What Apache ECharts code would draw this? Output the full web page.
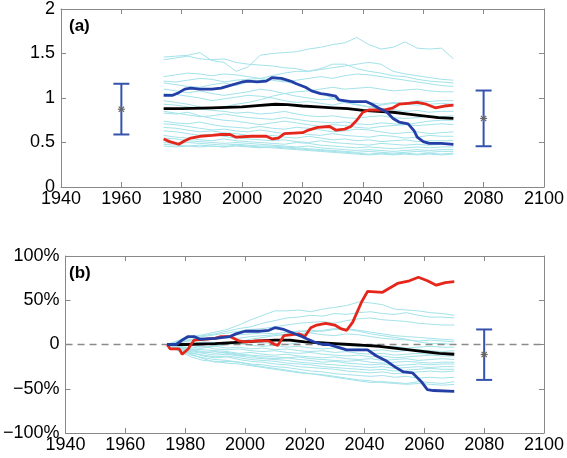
<!DOCTYPE html>
<html><head><meta charset="utf-8">
<script src="https://cdn.jsdelivr.net/npm/echarts@6/dist/echarts.min.js"></script>
<style>html,body{margin:0;padding:0;background:#fff}#c{width:567px;height:458px}</style>
</head><body><div id="c"></div>
<script>
// ---------- data ----------
const years = [1974,1978,1982,1986,1990,1994,1998,2002,2006,2010,2014,2018,2022,2026,2030,2034,2038,2042,2046,2050,2054,2058,2062,2066,2070];

const xTicks = [1940,1960,1980,2000,2020,2040,2060,2080,2100];
const yTicksA = [0,0.5,1,1.5,2];
const yTicksB = [-100,-50,0,50,100];

// panel (a) thin model lines
const cyanA = [
 [1.46,1.47,1.48,1.51,1.42,1.40,1.30,1.35,1.48,1.50,1.51,1.52,1.55,1.57,1.60,1.62,1.68,1.60,1.55,1.57,1.63,1.56,1.55,1.56,1.44],
 [1.43,1.45,1.47,1.44,1.43,1.44,1.40,1.38,1.37,1.36,1.34,1.33,1.30,1.32,1.34,1.36,1.38,1.40,1.38,1.30,1.27,1.25,1.23,1.21,1.20],
 [1.24,1.26,1.28,1.27,1.25,1.27,1.26,1.24,1.22,1.25,1.28,1.30,1.30,1.33,1.38,1.38,1.33,1.30,1.28,1.25,1.24,1.21,1.19,1.18,1.17],
 [1.19,1.18,1.20,1.22,1.21,1.18,1.20,1.21,1.22,1.20,1.18,1.20,1.22,1.24,1.22,1.25,1.27,1.26,1.24,1.22,1.20,1.18,1.16,1.14,1.13],
 [1.17,1.15,1.13,1.12,1.15,1.17,1.14,1.18,1.20,1.22,1.19,1.15,1.10,1.05,1.00,0.95,0.92,0.90,0.88,0.87,0.85,0.86,0.84,0.85,0.85],
 [1.10,1.08,1.06,1.08,1.05,1.03,1.05,1.07,1.10,1.08,1.05,1.02,1.00,0.98,0.99,0.97,0.96,0.95,0.93,0.95,0.94,0.97,0.96,0.97,0.97],
 [1.05,1.04,1.02,1.00,0.97,0.99,1.01,1.03,1.02,1.00,0.97,0.95,0.96,0.94,0.92,0.95,0.93,0.90,0.92,0.94,0.93,0.92,0.93,0.94,0.93],
 [0.97,0.95,0.93,0.90,0.88,0.90,0.93,0.95,0.98,1.02,1.05,1.07,1.08,1.10,1.12,1.10,1.11,1.12,1.10,1.08,1.09,1.10,1.08,1.07,1.07],
 [0.93,0.92,0.90,0.88,0.86,0.85,0.83,0.84,0.82,0.83,0.85,0.82,0.80,0.79,0.80,0.78,0.77,0.79,0.80,0.78,0.77,0.78,0.80,0.79,0.80],
 [0.85,0.83,0.81,0.79,0.80,0.82,0.80,0.78,0.77,0.76,0.78,0.76,0.74,0.73,0.72,0.73,0.71,0.70,0.72,0.71,0.70,0.72,0.74,0.75,0.75],
 [0.83,0.82,0.84,0.80,0.77,0.75,0.74,0.72,0.70,0.72,0.74,0.72,0.70,0.68,0.70,0.69,0.67,0.66,0.68,0.69,0.70,0.69,0.70,0.71,0.70],
 [0.74,0.72,0.71,0.73,0.70,0.68,0.67,0.66,0.68,0.66,0.65,0.67,0.66,0.64,0.62,0.63,0.65,0.64,0.62,0.60,0.61,0.62,0.60,0.61,0.62],
 [0.71,0.70,0.68,0.66,0.64,0.65,0.63,0.62,0.64,0.62,0.60,0.61,0.59,0.58,0.60,0.58,0.57,0.56,0.58,0.57,0.55,0.56,0.58,0.57,0.57],
 [0.67,0.66,0.64,0.62,0.63,0.61,0.60,0.58,0.57,0.58,0.56,0.55,0.57,0.55,0.53,0.54,0.52,0.53,0.51,0.52,0.53,0.51,0.52,0.52,0.52],
 [0.63,0.62,0.60,0.58,0.59,0.57,0.55,0.54,0.53,0.52,0.53,0.51,0.50,0.52,0.50,0.49,0.48,0.47,0.49,0.48,0.47,0.48,0.47,0.48,0.48],
 [0.58,0.56,0.55,0.53,0.52,0.54,0.52,0.51,0.50,0.49,0.48,0.50,0.49,0.47,0.46,0.45,0.44,0.45,0.44,0.43,0.44,0.45,0.44,0.45,0.45],
 [0.55,0.54,0.52,0.51,0.50,0.49,0.50,0.49,0.48,0.47,0.46,0.45,0.46,0.44,0.43,0.42,0.41,0.42,0.41,0.40,0.41,0.42,0.41,0.42,0.42],
 [0.50,0.49,0.50,0.49,0.48,0.47,0.48,0.47,0.46,0.46,0.45,0.44,0.43,0.42,0.41,0.40,0.39,0.40,0.39,0.38,0.39,0.40,0.39,0.40,0.40],
 [0.48,0.47,0.46,0.47,0.46,0.45,0.46,0.45,0.44,0.45,0.44,0.43,0.42,0.41,0.40,0.39,0.38,0.37,0.38,0.37,0.38,0.37,0.38,0.37,0.38],
 [0.46,0.45,0.46,0.45,0.46,0.45,0.47,0.46,0.45,0.44,0.43,0.42,0.41,0.40,0.39,0.38,0.37,0.36,0.37,0.36,0.37,0.36,0.37,0.36,0.37]
];

// panel (b) thin model lines (% change)
const cyanB = [
 [0,5,9,11,14,17,22,28,33,38,38,39,37,40,42,44,48,47,45,40,39,38,36,35,33],
 [0,4,8,10,12,15,18,20,24,27,30,31,33,32,35,34,36,37,35,34,36,33,31,31,30],
 [0,3,6,9,11,13,15,17,18,20,22,24,25,26,24,27,29,30,28,27,26,24,23,22,22],
 [0,2,5,6,8,10,11,12,13,12,14,15,16,15,17,18,16,14,12,10,9,8,7,6,5],
 [0,3,4,5,6,8,7,9,10,11,10,12,13,11,10,12,11,9,7,6,5,4,5,4,3],
 [0,-3,-6,-4,-2,0,3,6,8,10,12,15,14,16,18,17,15,12,10,8,6,3,1,1,0],
 [0,2,1,3,2,1,3,4,2,1,0,2,3,1,0,-1,-2,-1,-3,-2,-4,-3,-2,-3,-3],
 [0,-1,0,1,-1,0,1,-1,-2,-1,-3,-2,-4,-5,-4,-6,-5,-7,-6,-8,-7,-6,-7,-8,-7],
 [0,-2,-1,-3,-2,-4,-3,-5,-4,-6,-5,-7,-8,-7,-9,-8,-10,-11,-10,-12,-11,-10,-11,-10,-10],
 [0,-3,-4,-2,-5,-6,-5,-7,-8,-7,-9,-10,-9,-11,-12,-13,-12,-14,-13,-15,-14,-13,-12,-13,-13],
 [0,-2,-5,-6,-7,-8,-10,-9,-11,-12,-11,-13,-14,-15,-14,-16,-17,-16,-18,-17,-16,-18,-17,-16,-17],
 [0,-4,-6,-8,-10,-9,-11,-12,-13,-14,-15,-14,-16,-17,-18,-19,-18,-20,-21,-20,-19,-20,-21,-20,-20],
 [0,-3,-7,-9,-8,-10,-12,-13,-15,-16,-15,-17,-18,-20,-19,-21,-22,-23,-22,-24,-23,-22,-23,-22,-22],
 [0,-5,-8,-10,-12,-11,-13,-15,-16,-17,-18,-20,-21,-22,-23,-24,-25,-26,-25,-27,-26,-25,-26,-25,-25],
 [0,-6,-10,-12,-14,-13,-15,-17,-18,-19,-21,-22,-23,-25,-26,-27,-28,-29,-28,-30,-29,-28,-27,-28,-28],
 [0,-4,-9,-13,-15,-14,-17,-19,-20,-22,-23,-25,-26,-27,-28,-30,-31,-32,-31,-33,-32,-31,-30,-31,-30],
 [0,-7,-12,-15,-17,-18,-20,-22,-23,-25,-26,-28,-30,-31,-33,-34,-35,-36,-35,-37,-36,-38,-37,-38,-37],
 [0,-8,-14,-18,-19,-21,-22,-24,-26,-28,-30,-32,-33,-35,-37,-39,-41,-43,-42,-43,-44,-42,-43,-44,-42],
 [0,-5,-11,-16,-20,-19,-20,-23,-25,-27,-29,-31,-33,-34,-36,-38,-40,-41,-43,-44,-45,-44,-45,-46,-45]
];

// thick lines, [year, value]
const blackA = [[1974,0.88],[1980,0.88],[1990,0.89],[2000,0.90],[2005,0.915],[2011,0.93],[2015,0.925],[2020,0.91],[2025,0.90],[2030,0.89],[2035,0.88],[2040,0.86],[2045,0.85],[2050,0.84],[2055,0.82],[2060,0.80],[2065,0.78],[2070,0.77]];
const redA = [[1974,0.54],[1976,0.51],[1979,0.48],[1981,0.52],[1983,0.55],[1986,0.57],[1990,0.58],[1993,0.59],[1996,0.59],[1998,0.56],[2003,0.57],[2008,0.57],[2010,0.54],[2012,0.55],[2014,0.60],[2020,0.61],[2022,0.64],[2025,0.67],[2029,0.68],[2031,0.64],[2034,0.65],[2036,0.68],[2038,0.75],[2040,0.84],[2042,0.865],[2047,0.865],[2050,0.89],[2052,0.93],[2055,0.94],[2058,0.95],[2061,0.93],[2064,0.89],[2067,0.91],[2070,0.92]];
const blueA = [[1974,1.03],[1977,1.03],[1979,1.06],[1981,1.10],[1983,1.11],[1986,1.10],[1990,1.10],[1993,1.11],[1995,1.13],[1998,1.16],[2000,1.18],[2002,1.19],[2005,1.18],[2008,1.19],[2010,1.23],[2013,1.22],[2016,1.19],[2018,1.16],[2021,1.12],[2023,1.08],[2026,1.05],[2028,1.04],[2031,1.02],[2032,0.98],[2036,0.96],[2041,0.96],[2043,0.93],[2045,0.89],[2048,0.84],[2050,0.77],[2052,0.73],[2055,0.71],[2057,0.63],[2058,0.56],[2060,0.51],[2062,0.49],[2066,0.49],[2070,0.48]];

const blackB = [[1974,0],[1980,0],[1990,1],[2000,3],[2005,4],[2010,5],[2015,5],[2020,3],[2025,2],[2030,1],[2035,0],[2040,-1],[2045,-2],[2050,-4],[2055,-6],[2060,-8],[2065,-10],[2070,-11]];
const redB = [[1974,0],[1975,-5],[1978,-5],[1979,-11],[1981,-5],[1983,5],[1987,6],[1990,7],[1992,9],[1995,9],[1998,4],[2000,3],[2004,4],[2008,4],[2010,0],[2011,-1],[2013,10],[2018,12],[2020,9],[2022,19],[2024,22],[2027,24],[2030,22],[2032,18],[2034,16],[2036,25],[2039,48],[2041,60],[2046,59],[2048,63],[2051,69],[2055,72],[2058,76],[2061,72],[2064,67],[2067,70],[2070,71]];
const blueB = [[1974,0],[1977,0],[1979,5],[1981,9],[1983,9],[1985,6],[1990,7],[1995,9],[1997,12],[2000,15],[2005,15],[2008,16],[2010,19],[2013,17],[2016,13],[2019,9],[2021,6],[2023,3],[2026,0],[2028,0],[2031,-3],[2034,-6],[2041,-6],[2044,-13],[2047,-18],[2050,-25],[2053,-31],[2056,-32],[2059,-42],[2061,-51],[2063,-52],[2070,-53]];

// error bars: [year, low, high, centre]
const errA = [[1960,0.59,1.16,0.874],[2080,0.458,1.084,0.77]];
const errB = [[2080,-40,17,-11.3]];

// ---------- chart ----------
const FONT = 'Arial, "Liberation Sans", sans-serif';
const AX = '#888';
const chart = echarts.init(document.getElementById('c'), null, {renderer:'canvas'});

function xAx(grid, top) {
  return {
    gridIndex: grid, type: 'value', min: 1940, max: 2100, interval: 20,
    position: top ? 'top' : 'bottom',
    axisLine: {show: true, onZero: false, lineStyle: {color: AX, width: 1}},
    axisTick: {show: true, inside: true, length: 5, lineStyle: {color: AX}},
    axisLabel: {show: !top, color: '#000', fontSize: 18, fontFamily: FONT, margin: 3, formatter: v => String(v)},
    splitLine: {show: false}
  };
}
function yAx(grid, right, min, max, interval, fmt) {
  return {
    gridIndex: grid, type: 'value', min: min, max: max, interval: interval,
    position: right ? 'right' : 'left',
    axisLine: {show: true, onZero: false, lineStyle: {color: AX, width: 1}},
    axisTick: {show: true, inside: true, length: 5, lineStyle: {color: AX}},
    axisLabel: {show: !right, color: '#000', fontSize: 18, fontFamily: FONT, margin: 6, formatter: fmt},
    splitLine: {show: false}
  };
}
const fmtA = v => String(v);
const fmtB = v => v === 0 ? '0' : (v < 0 ? '\u2212' : '') + Math.abs(v) + '%';

function errRender(params, api) {
  const x = api.value(0), lo = api.value(1), hi = api.value(2), c = api.value(3);
  const pl = api.coord([x, lo]), ph = api.coord([x, hi]), pc = api.coord([x, c]);
  const w = 8, s = 3.5, col = '#3553ad', st = '#666';
  const L = (x1,y1,x2,y2,stroke,lw) => ({type:'line', shape:{x1,y1,x2,y2}, style:{stroke, lineWidth:lw}});
  return {type:'group', children:[
    L(pl[0], pl[1], ph[0], ph[1], col, 2),
    L(pl[0]-w, pl[1], pl[0]+w, pl[1], col, 2),
    L(ph[0]-w, ph[1], ph[0]+w, ph[1], col, 2),
    L(pc[0]-s, pc[1], pc[0]+s, pc[1], st, 1.2),
    L(pc[0], pc[1]-s, pc[0], pc[1]+s, st, 1.2),
    L(pc[0]-s*0.75, pc[1]-s*0.75, pc[0]+s*0.75, pc[1]+s*0.75, st, 1.2),
    L(pc[0]-s*0.75, pc[1]+s*0.75, pc[0]+s*0.75, pc[1]-s*0.75, st, 1.2)
  ]};
}

const series = [];
const CY = '#a3e3ea';
cyanA.forEach(arr => series.push({
  type: 'line', xAxisIndex: 0, yAxisIndex: 0, data: years.map((y,i) => [y, arr[i]]),
  showSymbol: false, silent: true, lineStyle: {color: CY, width: 1}
}));
cyanB.forEach(arr => series.push({
  type: 'line', xAxisIndex: 2, yAxisIndex: 2, data: years.map((y,i) => [y, arr[i]]),
  showSymbol: false, silent: true, lineStyle: {color: CY, width: 1}
}));
// dashed zero line (b)
series.push({
  type: 'line', xAxisIndex: 2, yAxisIndex: 2, data: [[1940,0],[2100,0]],
  showSymbol: false, silent: true, lineStyle: {color: '#8a8a8a', width: 1.5, type: [7,5]}
});
const thick = (data, xi, yi, color) => ({
  type: 'line', xAxisIndex: xi, yAxisIndex: yi, data: data, showSymbol: false, silent: true,
  lineStyle: {color: color, width: 2.8}
});
series.push(thick(blackA, 0, 0, '#000'));
series.push(thick(redA, 0, 0, '#e5261b'));
series.push(thick(blueA, 0, 0, '#233fa6'));
series.push(thick(blackB, 2, 2, '#000'));
series.push(thick(redB, 2, 2, '#e5261b'));
series.push(thick(blueB, 2, 2, '#233fa6'));
series.push({type:'custom', xAxisIndex:0, yAxisIndex:0, data: errA, renderItem: errRender, encode:{x:0, y:[1,2,3]}, silent:true});
series.push({type:'custom', xAxisIndex:2, yAxisIndex:2, data: errB, renderItem: errRender, encode:{x:0, y:[1,2,3]}, silent:true});

chart.setOption({
  animation: false,
  backgroundColor: '#fff',
  grid: [
    {left: 61, right: 21, top: 9, height: 178},
    {left: 61, right: 21, top: 256, height: 177}
  ],
  xAxis: [xAx(0,false), xAx(0,true), xAx(1,false), xAx(1,true)],
  yAxis: [
    yAx(0,false,0,2,0.5,fmtA), yAx(0,true,0,2,0.5,fmtA),
    yAx(1,false,-100,100,50,fmtB), yAx(1,true,-100,100,50,fmtB)
  ],
  graphic: [
    {type:'text', left: 69, top: 18, style:{text:'(a)', font:'bold 17px Arial, "Liberation Sans", sans-serif', fill:'#000'}},
    {type:'text', left: 69, top: 265, style:{text:'(b)', font:'bold 17px Arial, "Liberation Sans", sans-serif', fill:'#000'}}
  ],
  series: series
});
</script>
</body></html>
